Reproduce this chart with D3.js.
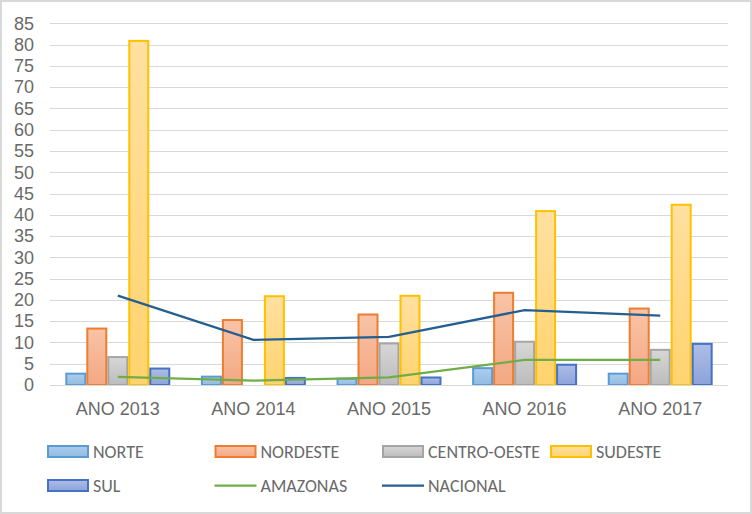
<!DOCTYPE html>
<html>
<head>
<meta charset="utf-8">
<script src="https://cdn.jsdelivr.net/npm/d3@7"></script>
<style>
  html, body { margin: 0; padding: 0; background: #fff; }
  svg { display: block; font-family: Carlito, "Liberation Sans Narrow", "Open Sans", sans-serif; }
</style>
</head>
<body>
<svg id="chart" width="752" height="514"></svg>
<script>
// Values
const years = ["ANO 2013", "ANO 2014", "ANO 2015", "ANO 2016", "ANO 2017"];
const norte = [2.9, 2.2, 1.7, 4.2, 2.9];
const nordeste = [13.5, 15.5, 16.8, 21.9, 18.2];
const centroOeste = [6.8, 0, 10.0, 10.4, 8.5];
const sudeste = [81.1, 21.1, 21.2, 41.1, 42.6];
const sul = [4.1, 1.9, 2.0, 5.0, 9.9];
const amazonas = [1.9, 1.0, 1.8, 5.9, 5.9];
const nacional = [21.0, 10.6, 11.3, 17.6, 16.3];
const yTicks = d3.range(0, 86, 5);

// Series styling: name, values, fill top, fill bottom, border
const barSeries = [
    { name: "NORTE", values: norte, top: "#adcdeb", bottom: "#92bbe3", stroke: "#5b9bd5" },
    { name: "NORDESTE", values: nordeste, top: "#f8c4a6", bottom: "#f4a783", stroke: "#ed7d31" },
    { name: "CENTRO-OESTE", values: centroOeste, top: "#d7d7d7", bottom: "#bcbcbc", stroke: "#a5a5a5" },
    { name: "SUDESTE", values: sudeste, top: "#ffe0a0", bottom: "#ffd36e", stroke: "#ffc000" },
    { name: "SUL", values: sul, top: "#aebde5", bottom: "#8ca3da", stroke: "#4472c4" }
];
const lineSeries = [
    { name: "AMAZONAS", values: amazonas, stroke: "#70ad47" },
    { name: "NACIONAL", values: nacional, stroke: "#255e91" }
];

const svg = d3.select('#chart');
const textColor = "#6a6a6a";
const gridColor = "#d9d9d9";

// Outer chart frame
svg.append('rect')
    .attr('x', 1).attr('y', 1)
    .attr('width', 750).attr('height', 512)
    .attr('fill', '#fff')
    .attr('stroke', gridColor)
    .attr('stroke-width', 2);

const plot = { left: 50, right: 728, top: 23.3, bottom: 385 };

const y = d3.scaleLinear().domain([0, 85]).range([plot.bottom, plot.top]);
const x0 = d3.scaleBand().domain(years).range([plot.left, plot.right]);
const x1 = d3.scaleBand()
    .domain(barSeries.map(d => d.name))
    .range([0, x0.bandwidth()])
    .paddingInner(0)
    .paddingOuter(0.73);

// Gradients for bar fills
const defs = svg.append('defs');
barSeries.forEach((s, i) => {
    const g = defs.append('linearGradient')
        .attr('id', 'grad' + i)
        .attr('x1', 0).attr('y1', 0).attr('x2', 0).attr('y2', 1);
    g.append('stop').attr('offset', '0%').attr('stop-color', s.top);
    g.append('stop').attr('offset', '100%').attr('stop-color', s.bottom);
});

// Gridlines
svg.append('g')
    .selectAll('line')
    .data(yTicks)
    .join('line')
    .attr('x1', plot.left).attr('x2', plot.right)
    .attr('y1', d => Math.round(y(d)) + 0.5)
    .attr('y2', d => Math.round(y(d)) + 0.5)
    .attr('stroke', gridColor)
    .attr('stroke-width', 1);

// Y axis labels
const yAxis = svg.append('g')
    .attr('transform', `translate(${plot.left},0)`)
    .call(d3.axisLeft(y).tickValues(yTicks).tickSize(0).tickPadding(16));
yAxis.select('.domain').remove();
yAxis.selectAll('text')
    .attr('fill', textColor)
    .attr('font-size', 18)
    .attr('font-family', null);

// X axis labels
const xAxis = svg.append('g')
    .attr('transform', `translate(0,${plot.bottom})`)
    .call(d3.axisBottom(x0).tickSize(0).tickPadding(17));
xAxis.select('.domain').remove();
xAxis.selectAll('text')
    .attr('fill', textColor)
    .attr('font-size', 18)
    .attr('font-family', null);

// Bars
barSeries.forEach((s, i) => {
    svg.append('g')
        .selectAll('rect')
        .data(s.values.map((v, j) => ({ year: years[j], value: v })).filter(d => d.value > 0))
        .join('rect')
        .attr('x', d => x0(d.year) + x1(s.name) + 1)
        .attr('y', d => y(d.value) + 1)
        .attr('width', x1.bandwidth() - 2)
        .attr('height', d => Math.max(0, y(0) - y(d.value) - 1))
        .attr('fill', `url(#grad${i})`)
        .attr('stroke', s.stroke)
        .attr('stroke-width', 2);
});

// Baseline
svg.append('line')
    .attr('x1', plot.left).attr('x2', plot.right)
    .attr('y1', Math.round(y(0)) + 0.5).attr('y2', Math.round(y(0)) + 0.5)
    .attr('stroke', gridColor);

// Lines
const line = d3.line()
    .x((d, j) => x0(years[j]) + x0.bandwidth() / 2)
    .y(d => y(d));
lineSeries.forEach(s => {
    svg.append('path')
        .datum(s.values)
        .attr('d', line)
        .attr('fill', 'none')
        .attr('stroke', s.stroke)
        .attr('stroke-width', 2.25);
});

// Legend
const legendItems = barSeries.map(s => ({ ...s, type: 'bar' }))
    .concat(lineSeries.map(s => ({ ...s, type: 'line' })));
const legendCols = [47, 214.5, 382, 550];
const legendRows = [451.5, 485.5];

legendItems.forEach((item, k) => {
    const gx = legendCols[k % 4];
    const gy = legendRows[Math.floor(k / 4)];
    const g = svg.append('g').attr('transform', `translate(${gx},${gy})`);
    if (item.type === 'bar') {
        const i = barSeries.findIndex(b => b.name === item.name);
        g.append('rect')
            .attr('x', 1).attr('y', -5.5)
            .attr('width', 40).attr('height', 11)
            .attr('fill', `url(#grad${i})`)
            .attr('stroke', item.stroke)
            .attr('stroke-width', 2);
    } else {
        g.append('line')
            .attr('x1', 0).attr('x2', 42)
            .attr('y1', 0).attr('y2', 0)
            .attr('stroke', item.stroke)
            .attr('stroke-width', 2.25);
    }
    g.append('text')
        .attr('x', 46)
        .attr('y', 0)
        .attr('dy', '0.35em')
        .attr('fill', textColor)
        .attr('font-size', 18)
        .text(item.name);
});
</script>
</body>
</html>
